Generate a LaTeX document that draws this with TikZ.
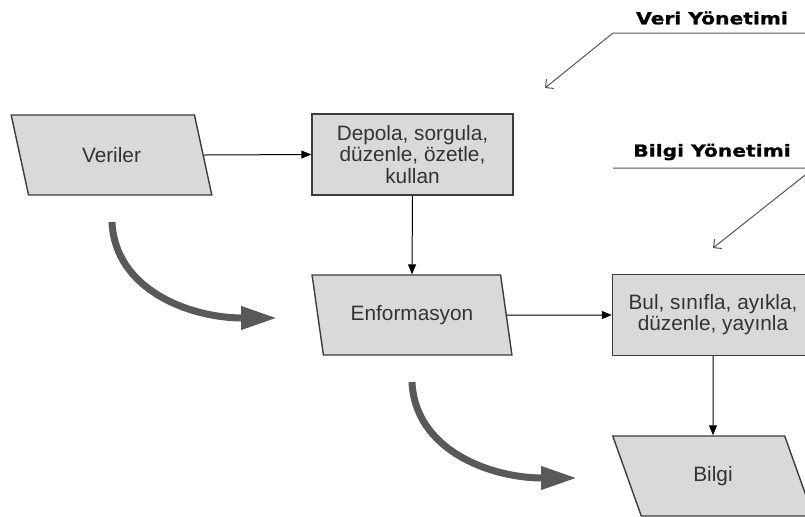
\documentclass[tikz,border=0pt]{standalone}
\usepackage{fontspec}
\setmainfont{Liberation Sans}
\newfontfamily\headfont[FakeStretch=1.22, FakeBold=1]{DejaVu Sans}
\usetikzlibrary{shapes.geometric, arrows.meta}

\definecolor{boxfill}{HTML}{D9D9D9}
\definecolor{boxline}{HTML}{3C3C3C}
\definecolor{txt}{HTML}{333333}
\definecolor{bigarr}{HTML}{595959}
\definecolor{mgmtline}{HTML}{555555}

\begin{document}
\begin{tikzpicture}[x=0.5pt, y=-0.5pt,
  data/.style={trapezium, trapezium left angle=112, trapezium right angle=68,
    trapezium stretches=true, draw=boxline, fill=boxfill, line width=0.7pt,
    minimum width=100.5pt, minimum height=40pt, inner sep=0pt, text=txt,
    font=\fontsize{10.4}{10.5}\selectfont},
  proc/.style={rectangle, draw=boxline, fill=boxfill, line width=0.7pt,
    minimum width=100.5pt, minimum height=40.5pt, inner sep=0pt, align=center,
    text=txt, font=\fontsize{10.4}{10.6}\selectfont},
  flow/.style={-{Triangle[length=5pt,width=4pt]}, line width=0.5pt},
  bigarrow/.style={-{Triangle[length=18pt,width=11pt]}, line width=3.5pt, bigarr},
  mgmt/.style={-{Straight Barb[length=3pt,width=6pt]}, line width=0.5pt, mgmtline},
  head/.style={font=\headfont\bfseries\fontsize{8.3}{9}\selectfont}]
\useasboundingbox (0,0) rectangle (805,516);

\node[data] (veriler) at (111.5,155) {Veriler};
\node[proc] (depola) at (412.5,154.5) {Depola, sorgula,\\düzenle, özetle,\\kullan};
\node[data] (enform) at (412,315) {Enformasyon};
\node[proc] (bul) at (713,315) {Bul, sınıfla, ayıkla,\\düzenle, yayınla};
\node[data] (bilgi) at (713,476) {Bilgi};

\draw[flow] (veriler.east) -- (depola.west);
\draw[flow] (depola.south) -- (enform.north);
\draw[flow] (enform.east) -- (bul.west);
\draw[flow] (bul.south) -- (bilgi.north);

\coordinate (s1) at (112,222);
\coordinate (e1) at (277,318);
\coordinate (s2) at (412,382);
\coordinate (e2) at (577,478);
\draw[bigarrow] (s1) .. controls (115,290) and (190,318) .. (e1);
\draw[bigarrow] (s2) .. controls (415,450) and (490,478) .. (e2);

\node[head] (veriy) at (712,18) {Veri Yönetimi};
\coordinate (v1) at (814,33);
\coordinate (v2) at (613,33);
\coordinate (v3) at (545,88);
\draw[mgmt] (v1) -- (v2) -- (v3);

\node[head] (bilgiy) at (712,152) {Bilgi Yönetimi};
\coordinate (b1) at (613,168);
\coordinate (b2) at (814,168);
\coordinate (b3) at (713,248);
\draw[mgmt] (b1) -- (b2) -- (b3);
\end{tikzpicture}
\end{document}
